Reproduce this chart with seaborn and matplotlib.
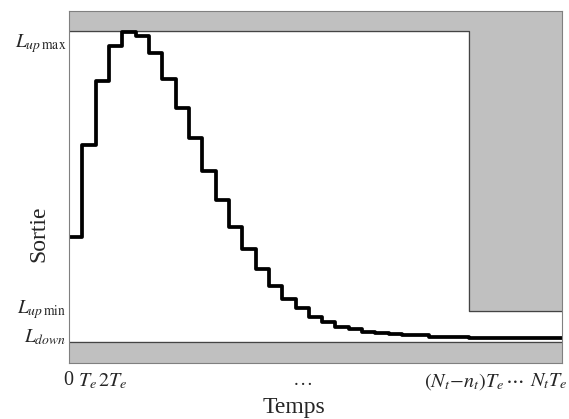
import numpy as np
import matplotlib
matplotlib.use('Agg')
import matplotlib.pyplot as plt
import matplotlib.transforms as mtransforms
import seaborn as sns
import pandas as pd

# sortie par pas d'echantillonnage (37 pas)
sortie = [0.338, 0.633, 0.839, 0.952, 0.995, 0.984, 0.929, 0.846, 0.752, 0.656,
          0.550, 0.457, 0.370, 0.299, 0.235, 0.180, 0.138, 0.109, 0.080, 0.064,
          0.048, 0.042, 0.032, 0.028, 0.025, 0.022, 0.021, 0.016, 0.015, 0.015,
          0.012, 0.012, 0.012, 0.012, 0.012, 0.012, 0.012]

# contraintes
L_up_max = 1.0
L_up_min = 0.1
L_down = 0.0
N_t = 37
n_t = 7

x_ticks = [0, 1, 2, N_t - n_t, N_t]
x_labels = ["0", r"$T_e$", r"$2T_e$", r"$(N_t\!-\!n_t)T_e$", r"$N_tT_e$"]
x_dots = [17.5, 33.45]
x_dots_labels = [r"$\ldots$", r"$\cdots$"]
y_ticks = [L_down, L_up_min, L_up_max]
y_labels = [r"$L_{down}$", r"$L_{up\,\mathrm{min}}$", r"$L_{up\,\mathrm{max}}$"]

sns.set_style('white')
plt.rcParams['font.family'] = ['Liberation Serif', 'DejaVu Serif']
plt.rcParams['mathtext.fontset'] = 'stix'

fig = plt.figure(figsize=(5.69, 4.19), dpi=100)
ax = fig.add_axes([0.1213, 0.1337, 0.8664, 0.84])

ymin, ymax = -0.0675, 1.064
ax.set_xlim(0, N_t)
ax.set_ylim(ymin, ymax)

# zones interdites
grey = '#c0c0c0'
edge = '#444444'
ux = [0, 0, N_t - n_t, N_t - n_t, N_t, N_t]
uy = [ymax, L_up_max, L_up_max, L_up_min, L_up_min, ymax]
ax.fill(ux, uy, color=grey, zorder=1)
ax.plot(ux[1:5], uy[1:5], color=edge, lw=0.9, zorder=2)
ax.fill_between([0, N_t], ymin, L_down, color=grey, zorder=1)
ax.axhline(L_down, color=edge, lw=0.9, zorder=2)

df = pd.DataFrame({'t': np.arange(N_t + 1), 'y': sortie + [sortie[-1]]})
sns.lineplot(data=df, x='t', y='y', ax=ax, color='black', lw=2.7,
             drawstyle='steps-post', zorder=3)

for s in ax.spines.values():
    s.set_color('#808080')
    s.set_linewidth(0.8)
    s.set_zorder(4)

ax.set_xticks(x_ticks)
ax.set_xticklabels(x_labels, fontsize=14.5)
ax.set_xticks(x_dots, minor=True)
ax.set_xticklabels(x_dots_labels, minor=True, fontsize=14.5)
ax.tick_params(axis='x', which='major', direction='in', length=4, color='#808080', pad=6)
ax.tick_params(axis='x', which='minor', length=0, pad=6)
ax.set_yticks(y_ticks)
ax.set_yticklabels(y_labels, fontsize=14)
ax.tick_params(axis='y', direction='in', length=4, color='#808080', pad=2)

# decalages des etiquettes (comme dans l'original)
x_shift = [-1, 5, 17, -5, -13]
for lab, dx in zip(ax.get_xticklabels(), x_shift):
    lab.set_transform(lab.get_transform() +
                      mtransforms.ScaledTranslation(dx / 100, 0, fig.dpi_scale_trans))
y_shift = [7, 5, -9]
for lab, dy in zip(ax.get_yticklabels(), y_shift):
    lab.set_transform(lab.get_transform() +
                      mtransforms.ScaledTranslation(0, dy / 100, fig.dpi_scale_trans))

ax.set_xlabel("Temps", fontsize=17)
ax.xaxis.set_label_coords(0.457, -0.097)
ax.set_ylabel("Sortie", fontsize=17)
ax.yaxis.set_label_coords(-0.04, 0.366)

fig.savefig('out.png', dpi=100)
